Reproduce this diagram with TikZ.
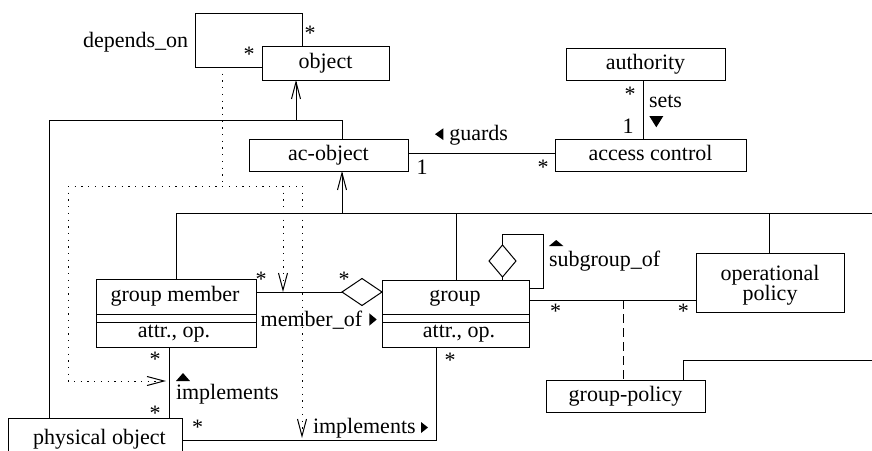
\documentclass[tikz,border=0pt]{standalone}
\usepackage{fontspec}
\setmainfont{Liberation Serif}
\usetikzlibrary{arrows.meta,shapes.geometric}
\begin{document}
\begin{tikzpicture}[x=1pt,y=-1pt,
  every node/.style={font=\fontsize{22}{20.5}\selectfont, inner sep=0pt, outer sep=0pt},
  box/.style={draw, line width=1pt, text height=15pt, text depth=5pt},
  emptybox/.style={draw, line width=1pt},
  lbl/.style={anchor=base},
  lblw/.style={anchor=base west},
  conn/.style={line width=1pt},
  gen/.style={line width=1pt, -{Straight Barb[length=17pt,width=9pt]}},
  dotline/.style={line width=1pt, dash pattern=on 1.3pt off 5.4pt},
  dotarrow/.style={dotline, -{Straight Barb[length=17pt,width=9pt]}},
  dashline/.style={line width=1pt, dash pattern=on 9pt off 5pt},
  dia/.style={draw, diamond, line width=1pt, fill=white},
  tri/.style={fill=black}]
\useasboundingbox (0,0) rectangle (872,450);
\clip (0,0) rectangle (872,450);

% boxes
\node[box, minimum width=127pt, minimum height=34pt] (object) at (325.5,63) {object};
\node[box, minimum width=159pt, minimum height=32pt] (authority) at (645.5,64) {authority};
\node[box, minimum width=159pt, minimum height=32pt] (acobj) at (328.5,155) {ac-object};
\node[box, minimum width=191pt, minimum height=32pt] (access) at (650.5,155) {access control};
\node[emptybox, minimum width=160pt, minimum height=68pt] (gm) at (176,313) {};
\node[lbl] (gmname) at (175,301) {group member};
\node[lbl] (gmattr) at (174,337) {attr., op.};
\draw[conn] (gm.west |- 0,314) -- (gm.east |- 0,314);
\draw[conn] (gm.west |- 0,322) -- (gm.east |- 0,322);
\node[emptybox, minimum width=147pt, minimum height=67pt] (group) at (455.5,313.5) {};
\node[lbl] (grname) at (455,301) {group};
\node[lbl] (grattr) at (459,337) {attr., op.};
\draw[conn] (group.west |- 0,314) -- (group.east |- 0,314);
\draw[conn] (group.west |- 0,322) -- (group.east |- 0,322);
\node[emptybox, minimum width=148pt, minimum height=59pt] (oppol) at (770,282.5) {};
\node[align=center] (opptext) at (770,285) {operational\\policy};
\node[box, minimum width=159pt, minimum height=32pt] (gpol) at (625.5,396) {group-policy};
\node[emptybox, minimum width=174pt, minimum height=44pt] (phys) at (95,440) {};
\node[lbl] (phystext) at (99.5,444.5) {physical object};

% depends_on self association
\draw[conn] (object.north -| 302,0) -- (302,13) -- (195,13) -- (195,67) -- (object.west |- 0,67);
\node[lbl] (s1) at (310,40) {*};
\node[lbl] (s2) at (249,61) {*};
\node[lblw] (dep) at (83,47.5) {depends\_on};

% generalization to object
\draw[conn] (phys.north -| 49,0) -- (49,120) -- (342,120) -- (acobj.north -| 342,0);
\draw[gen] (296,120) -- (object.south -| 296,0);

% guards
\draw[conn] (acobj.east |- 0,153) -- (access.west |- 0,153);
\node[lbl] (g1) at (422,174) {1};
\node[lbl] (g2) at (543,174.3) {*};
\node[lblw] (guards) at (449.3,140) {guards};
\fill[tri] (443.3,128.3) -- (443.3,140) -- (435,134.2) -- cycle;

% sets
\draw[conn] (authority.south -| 643,0) -- (access.north -| 643,0);
\node[lbl] (st1) at (630,101) {*};
\node[lbl] (st2) at (628,133) {1};
\node[lblw] (sets) at (649,107.5) {sets};
\fill[tri] (649.3,116) -- (663.3,116) -- (656.3,127.3) -- cycle;

% generalization to ac-object
\draw[gen] (342,213) -- (acobj.south -| 342,0);
\draw[conn] (gm.north -| 176,0) -- (176,213) -- (880,213);
\draw[conn] (456,213) -- (group.north -| 456,0);
\draw[conn] (769,213) -- (oppol.north -| 769,0);

% member_of
\node[dia, minimum width=40pt, minimum height=27pt] (mdia) at (362,292) {};
\draw[conn] (gm.east |- 0,292) -- (mdia.west);
\node[lbl] (m1) at (261,286) {*};
\node[lbl] (m2) at (344,286) {*};
\node[lblw] (memberof) at (260.7,326.5) {member\_of};
\fill[tri] (369.3,313.3) -- (369.3,325.7) -- (376.7,319.5) -- cycle;

% subgroup_of
\node[dia, minimum width=27pt, minimum height=32pt] (sdia) at (502.5,261) {};
\draw[conn] (group.east |- 0,288) -- (543,288) -- (543,234) -- (502.5,234) -- (sdia.north);
\draw[conn] (sdia.south) -- (group.north -| sdia.south);
\node[lblw] (subgroup) at (549,266.7) {subgroup\_of};
\fill[tri] (549,246) -- (563.3,246) -- (556.2,240) -- cycle;

% group - operational policy
\draw[conn] (group.east |- 0,300) -- (oppol.west |- 0,300);
\node[lbl] (o1) at (555.7,318.6) {*};
\node[lbl] (o2) at (683.3,318.6) {*};
\draw[dashline] (623,300) -- (gpol.north -| 623,0);
\draw[conn] (gpol.north -| 683,0) -- (683,360) -- (880,360);

% implements (group member - physical object)
\draw[conn] (gm.south -| 169,0) -- (phys.north -| 169,0);
\node[lbl] (i1) at (155,366) {*};
\node[lbl] (i2) at (155,420) {*};
\node[lblw] (impl1) at (176,399.3) {implements};
\fill[tri] (176,381) -- (190,381) -- (183,373) -- cycle;

% implements (physical object - group)
\draw[conn] (phys.east |- 0,440) -- (436,440) -- (group.south -| 436,0);
\node[lbl] (p1) at (197.7,434.6) {*};
\node[lbl] (p2) at (450,367) {*};
\node[lblw] (impl2) at (313,433.3) {implements};
\fill[tri] (421,422) -- (421,433) -- (428,427.5) -- cycle;

% dependencies (dotted)
\draw[dotline] (222,67) -- (222,186);
\draw[dotline] (68,186) -- (302,186);
\draw[dotarrow] (68,186) -- (68,381) -- (166,381);
\draw[dotarrow] (283,186) -- (283,292);
\draw[dotarrow] (302,186) -- (302,438);
\end{tikzpicture}
\end{document}
